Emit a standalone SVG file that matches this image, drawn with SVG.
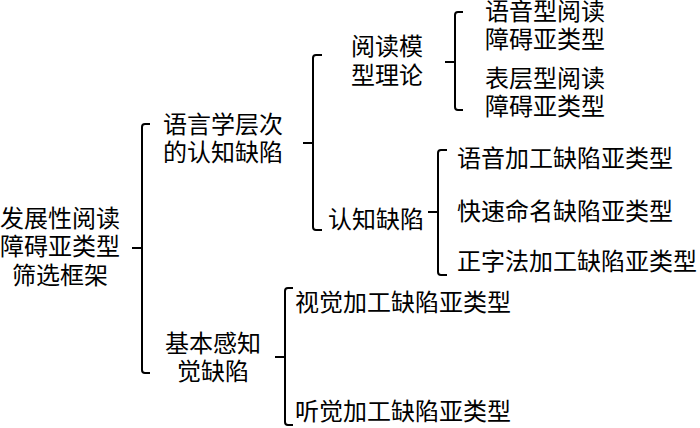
<svg xmlns="http://www.w3.org/2000/svg" width="700" height="428" viewBox="0 0 700 428">
<style>
text{font-family:"Noto Sans CJK SC","Liberation Sans",sans-serif;font-size:24px;fill:#000}
.m{text-anchor:middle}
.b{fill:none;stroke:#000;stroke-width:2;stroke-linejoin:round}
</style>
<rect width="700" height="428" fill="#fff"/>
<g id="connectors">
<path class="b" d="M150,124 H145 Q142,124 142,127 V370 Q142,373 145,373 H150 M132,248 H142"/>
<path class="b" d="M322,55 H316 Q313,55 313,58 V227 Q313,230 316,230 H322 M303,143 H313"/>
<path class="b" d="M463,12 H458 Q455,12 455,15 V107 Q455,110 458,110 H463 M445,62 H455"/>
<path class="b" d="M447,150 H441 Q438,150 438,153 V272 Q438,275 441,275 H447 M428,212 H438"/>
<path class="b" d="M293,288 H288 Q285,288 285,291 V422 Q285,425 288,425 H293 M275,357 H285"/>
</g>
<g id="root"><text class="m" x="60" y="227">发展性阅读</text><text class="m" x="60" y="255">障碍亚类型</text><text class="m" x="60" y="284">筛选框架</text></g>
<g id="ling"><text x="163" y="133">语言学层次</text><text x="163" y="161">的认知缺陷</text></g>
<g id="model"><text class="m" x="387" y="55">阅读模</text><text class="m" x="387" y="84">型理论</text></g>
<g id="phon"><text x="485" y="20">语音型阅读</text><text x="485" y="48">障碍亚类型</text></g>
<g id="surf"><text x="485" y="87">表层型阅读</text><text x="485" y="115">障碍亚类型</text></g>
<g id="cog"><text x="328" y="228">认知缺陷</text></g>
<g id="pp"><text x="457" y="167">语音加工缺陷亚类型</text></g>
<g id="ran"><text x="457" y="220">快速命名缺陷亚类型</text></g>
<g id="orth"><text x="457" y="270">正字法加工缺陷亚类型</text></g>
<g id="basic"><text class="m" x="213" y="352">基本感知</text><text class="m" x="213" y="380">觉缺陷</text></g>
<g id="vis"><text x="295" y="311">视觉加工缺陷亚类型</text></g>
<g id="aud"><text x="295" y="420">听觉加工缺陷亚类型</text></g>
</svg>
